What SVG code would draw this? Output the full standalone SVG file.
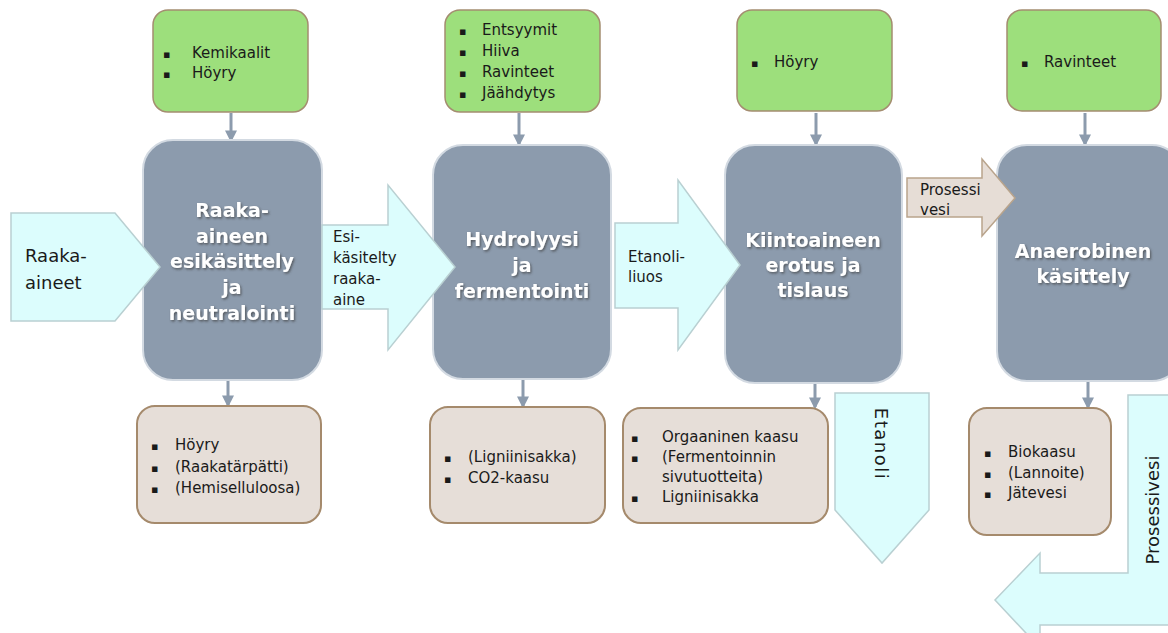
<svg xmlns="http://www.w3.org/2000/svg" width="1168" height="633" viewBox="0 0 1168 633">
<defs>
<style>
.main{fill:#8c9bad;stroke:#d3dae2;stroke-width:2}
.green{fill:#9ddf7c;stroke:#a48d70;stroke-width:1.5}
.beige{fill:#e6ded8;stroke:#a58a6c;stroke-width:2}
.cyan{fill:#dcfdfd;stroke:#b9d0d2;stroke-width:1.5}
.tan{fill:#e6ddd6;stroke:#b9a48c;stroke-width:1.5}
.t{font-family:"DejaVu Sans",Verdana,sans-serif;font-size:15px;fill:#1a1a1a}
.big{font-family:"DejaVu Sans",Verdana,sans-serif;font-size:18px;fill:#1a1a1a}
.title{font-family:"DejaVu Sans",Verdana,sans-serif;font-size:19px;font-weight:bold;fill:#ffffff;text-anchor:middle;filter:url(#sh)}
.conn{stroke:#8c9bad;stroke-width:3;fill:none}
.b{font-size:11px}
</style>
<filter id="sh" x="-10%" y="-10%" width="130%" height="140%">
<feDropShadow dx="1.2" dy="1.5" stdDeviation="0.8" flood-color="#3a3a3a" flood-opacity="0.7"/>
</filter>
<marker id="ah" viewBox="0 0 10 10" refX="8" refY="5" markerWidth="4" markerHeight="4" orient="auto" markerUnits="strokeWidth">
<path d="M0,0 L10,5 L0,10 Z" fill="#8c9bad"/>
</marker>
</defs>

<g id="connectors">
<line class="conn" x1="231" y1="113" x2="231" y2="140" marker-end="url(#ah)"/>
<line class="conn" x1="519" y1="113" x2="519" y2="144" marker-end="url(#ah)"/>
<line class="conn" x1="816" y1="113" x2="816" y2="144" marker-end="url(#ah)"/>
<line class="conn" x1="1085" y1="113" x2="1085" y2="144" marker-end="url(#ah)"/>
<line class="conn" x1="228" y1="380" x2="228" y2="405" marker-end="url(#ah)"/>
<line class="conn" x1="523" y1="379" x2="523" y2="406" marker-end="url(#ah)"/>
<line class="conn" x1="815" y1="383" x2="815" y2="407" marker-end="url(#ah)"/>
<line class="conn" x1="1088" y1="381" x2="1088" y2="407" marker-end="url(#ah)"/>
</g>

<g id="in-1">
<rect class="green" x="153" y="10" width="155" height="102" rx="15"/>
<text class="t" x="163" y="58"><tspan class="b">▪</tspan><tspan x="192">Kemikaalit</tspan></text>
<text class="t" x="163" y="78"><tspan class="b">▪</tspan><tspan x="192">Höyry</tspan></text>
</g>
<g id="in-2">
<rect class="green" x="445" y="10" width="155" height="102" rx="15"/>
<text class="t" x="459" y="35"><tspan class="b">▪</tspan><tspan x="482">Entsyymit</tspan></text>
<text class="t" x="459" y="56"><tspan class="b">▪</tspan><tspan x="482">Hiiva</tspan></text>
<text class="t" x="459" y="77"><tspan class="b">▪</tspan><tspan x="482">Ravinteet</tspan></text>
<text class="t" x="459" y="98"><tspan class="b">▪</tspan><tspan x="482">Jäähdytys</tspan></text>
</g>
<g id="in-3">
<rect class="green" x="737" y="10" width="155" height="101" rx="15"/>
<text class="t" x="751" y="67"><tspan class="b">▪</tspan><tspan x="774">Höyry</tspan></text>
</g>
<g id="in-4">
<rect class="green" x="1007" y="10" width="154" height="101" rx="15"/>
<text class="t" x="1021" y="67"><tspan class="b">▪</tspan><tspan x="1044">Ravinteet</tspan></text>
</g>

<g id="step-1">
<rect class="main" x="143" y="140" width="179" height="240" rx="30"/>
<text class="title" x="232" y="217">Raaka-</text>
<text class="title" x="232" y="243">aineen</text>
<text class="title" x="232" y="268">esikäsittely</text>
<text class="title" x="232" y="294">ja</text>
<text class="title" x="232" y="320">neutralointi</text>
</g>
<g id="step-2">
<rect class="main" x="433" y="145" width="178" height="234" rx="30"/>
<text class="title" x="522" y="246">Hydrolyysi</text>
<text class="title" x="522" y="272">ja</text>
<text class="title" x="522" y="298">fermentointi</text>
</g>
<g id="step-3">
<rect class="main" x="725" y="145" width="177" height="238" rx="30"/>
<text class="title" x="813" y="247">Kiintoaineen</text>
<text class="title" x="813" y="272">erotus ja</text>
<text class="title" x="813" y="297">tislaus</text>
</g>
<g id="step-4">
<rect class="main" x="997" y="145" width="185" height="236" rx="30"/>
<text class="title" x="1083" y="258">Anaerobinen</text>
<text class="title" x="1083" y="283">käsittely</text>
</g>

<g id="arrow-raaka-aineet">
<path class="cyan" d="M11,213 H115 L160,267 L115,321 H11 Z"/>
<text class="big" x="25" y="262">Raaka-</text>
<text class="big" x="25" y="289">aineet</text>
</g>

<g id="arrow-esikasitelty">
<path class="cyan" d="M322,225 H388 V185 L455,267 L388,350 V309 H322 Z"/>
<text class="t" x="333" y="242">Esi-</text>
<text class="t" x="333" y="263">käsitelty</text>
<text class="t" x="333" y="284">raaka-</text>
<text class="t" x="333" y="305">aine</text>
</g>

<g id="arrow-etanoliliuos">
<path class="cyan" d="M615,223 H678 V180 L740,265 L678,350 V308 H615 Z"/>
<text class="t" x="628" y="262">Etanoli-</text>
<text class="t" x="628" y="282">liuos</text>
</g>

<g id="arrow-prosessivesi-top">
<path class="tan" d="M907,178 H982 V159 L1015,198 L982,236 V217 H907 Z"/>
<text class="t" x="920" y="195">Prosessi</text>
<text class="t" x="920" y="215">vesi</text>
</g>

<g id="arrow-etanoli">
<path class="cyan" d="M835,393 H929 V510 L882,563 L835,510 Z"/>
<text class="big" transform="translate(875,444) rotate(90)" text-anchor="middle" letter-spacing="1.5">Etanoli</text>
</g>

<g id="arrow-prosessivesi">
<path class="cyan" d="M1128,395 H1172 V625 H1040 V648 L995,600 L1040,553 V573 H1128 Z"/>
<text class="big" transform="translate(1159,510) rotate(-90)" text-anchor="middle">Prosessivesi</text>
</g>

<g id="out-1">
<rect class="beige" x="137" y="406" width="184" height="117" rx="18"/>
<text class="t" x="151" y="450"><tspan class="b">▪</tspan><tspan x="175">Höyry</tspan></text>
<text class="t" x="151" y="472"><tspan class="b">▪</tspan><tspan x="175">(Raakatärpätti)</tspan></text>
<text class="t" x="151" y="493"><tspan class="b">▪</tspan><tspan x="175">(Hemiselluloosa)</tspan></text>
</g>
<g id="out-2">
<rect class="beige" x="430" y="407" width="175" height="116" rx="18"/>
<text class="t" x="444" y="462"><tspan class="b">▪</tspan><tspan x="468">(Ligniinisakka)</tspan></text>
<text class="t" x="444" y="483"><tspan class="b">▪</tspan><tspan x="468">CO2-kaasu</tspan></text>
</g>
<g id="out-3">
<rect class="beige" x="623" y="408" width="205" height="115" rx="18"/>
<text class="t" x="631" y="442"><tspan class="b">▪</tspan><tspan x="662">Orgaaninen kaasu</tspan></text>
<text class="t" x="631" y="462"><tspan class="b">▪</tspan><tspan x="662">(Fermentoinnin</tspan></text>
<text class="t" x="662" y="482">sivutuotteita)</text>
<text class="t" x="631" y="502"><tspan class="b">▪</tspan><tspan x="662">Ligniinisakka</tspan></text>
</g>
<g id="out-4">
<rect class="beige" x="969" y="408" width="142" height="127" rx="18"/>
<text class="t" x="984" y="457"><tspan class="b">▪</tspan><tspan x="1008">Biokaasu</tspan></text>
<text class="t" x="984" y="478"><tspan class="b">▪</tspan><tspan x="1008">(Lannoite)</tspan></text>
<text class="t" x="984" y="498"><tspan class="b">▪</tspan><tspan x="1008">Jätevesi</tspan></text>
</g>
</svg>
